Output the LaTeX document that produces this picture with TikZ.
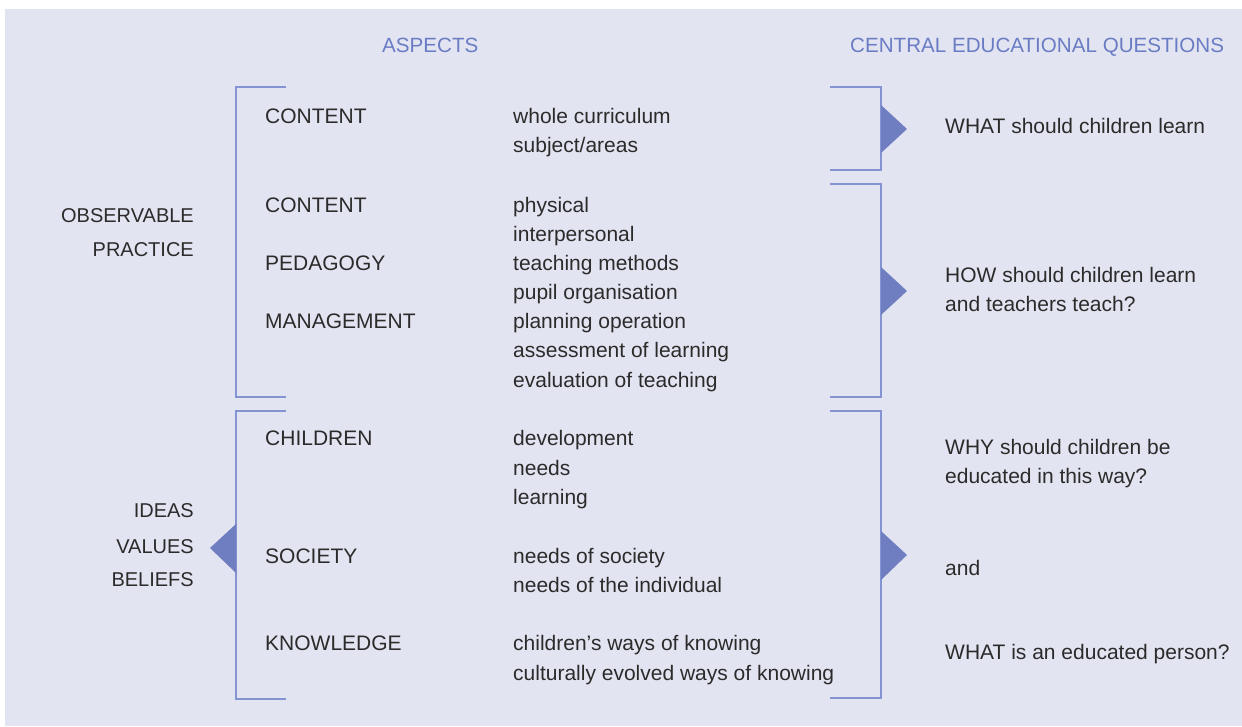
\documentclass[tikz,border=0pt]{standalone}
\usepackage{fontspec}
\setmainfont{Liberation Sans}
\usepackage{xcolor}
\definecolor{panel}{HTML}{E3E4F1}
\definecolor{headblue}{HTML}{6A7DC4}
\definecolor{rule}{HTML}{8494D2}
\definecolor{arrowblue}{HTML}{6E7EC0}
\definecolor{ink}{HTML}{2B2B2B}

\begin{document}
\begin{tikzpicture}[x=1pt, y=-1pt,
	txt/.style={anchor=base west, inner sep=0pt, text=ink, font=\fontsize{21}{29}\selectfont},
	side/.style={anchor=base east, inner sep=0pt, text=ink, font=\fontsize{20}{29}\selectfont},
	head/.style={anchor=base west, inner sep=0pt, text=headblue, font=\fontsize{20.6}{29}\selectfont},
	brk/.style={rule, line width=1.2pt},
	tip/.style={fill=arrowblue}]
	\useasboundingbox (0,0) rectangle (1242,726);
	\fill[white] (0,0) rectangle (1242,726);
	\fill[panel] (5,9) rectangle (1242,726);
	
	\node[head] (asp) at (382,52) {ASPECTS};
	\node[head] (ceq) at (850,52) {CENTRAL EDUCATIONAL QUESTIONS};
	
	\node[side] (obs) at (194,222) {OBSERVABLE};
	\node[side] (prac) at (194,256) {PRACTICE};
	\node[side] (ideas) at (194,517) {IDEAS};
	\node[side] (vals) at (194,553) {VALUES};
	\node[side] (bel) at (194,586) {BELIEFS};
	
	\node[txt] (cont1) at (265,123) {CONTENT};
	\node[txt] (cont2) at (265,212) {CONTENT};
	\node[txt] (ped) at (265,270) {PEDAGOGY};
	\node[txt] (man) at (265,328) {MANAGEMENT};
	\node[txt] (chil) at (265,445) {CHILDREN};
	\node[txt] (soc) at (265,563) {SOCIETY};
	\node[txt] (know) at (265,650) {KNOWLEDGE};
	
	\node[txt] (wc) at (513,123) {whole curriculum};
	\node[txt] (sa) at (513,152) {subject/areas};
	\node[txt] (phys) at (513,212) {physical};
	\node[txt] (inter) at (513,241) {interpersonal};
	\node[txt] (tm) at (513,270) {teaching methods};
	\node[txt] (po) at (513,299) {pupil organisation};
	\node[txt] (plan) at (513,328) {planning operation};
	\node[txt] (ass) at (513,357) {assessment of learning};
	\node[txt] (eval) at (513,387) {evaluation of teaching};
	\node[txt] (dev) at (513,445) {development};
	\node[txt] (needs) at (513,475) {needs};
	\node[txt] (learn) at (513,504) {learning};
	\node[txt] (nsoc) at (513,563) {needs of society};
	\node[txt] (nind) at (513,592) {needs of the individual};
	\node[txt] (cwk) at (513,650) {children’s ways of knowing};
	\node[txt] (cek) at (513,680) {culturally evolved ways of knowing};
	
	\node[txt] (qwhat) at (945,133) {WHAT should children learn};
	\node[txt] (qhow) at (945,282) {HOW should children learn};
	\node[txt] (qhow2) at (945,311) {and teachers teach?};
	\node[txt] (qwhy) at (945,454) {WHY should children be};
	\node[txt] (qwhy2) at (945,483) {educated in this way?};
	\node[txt] (qand) at (945,575) {and};
	\node[txt] (qperson) at (945,659) {WHAT is an educated person?};
	
	% brackets
	\draw[brk] (286,87) -| (236,397) -- (286,397);
	\draw[brk] (286,411) -| (236,699) -- (286,699);
	\draw[brk] (830,87) -| (881,170) -- (830,170);
	\draw[brk] (830,184) -| (881,397) -- (830,397);
	\draw[brk] (830,411) -| (881,698) -- (830,698);
	
	% pointers
	\fill[tip] (236,524) -- (210,548) -- (236,573) -- cycle;
	\fill[tip] (881,105) -- (907,129) -- (881,153) -- cycle;
	\fill[tip] (881,267) -- (907,291) -- (881,315) -- cycle;
	\fill[tip] (881,531) -- (907,555) -- (881,580) -- cycle;
	
\end{tikzpicture}
\end{document}
